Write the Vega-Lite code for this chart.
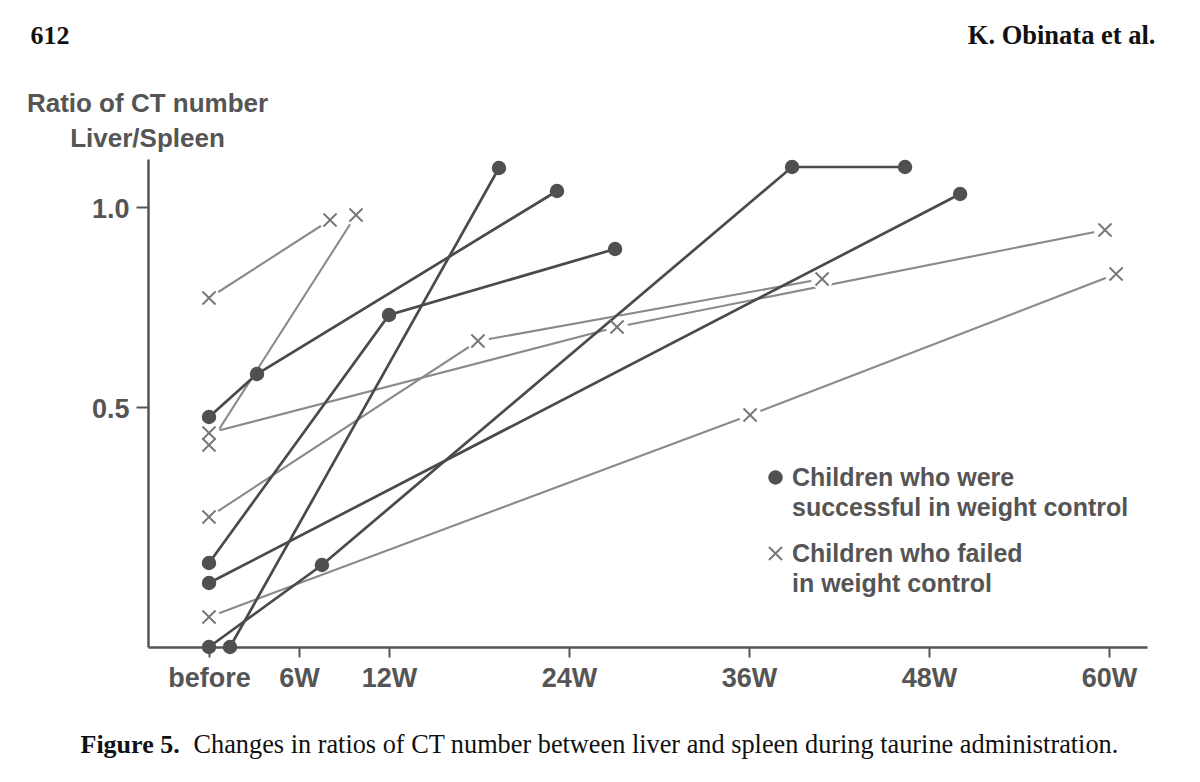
{
  "$schema": "https://vega.github.io/schema/vega-lite/v6.json",
  "width": 999,
  "height": 488,
  "autosize": {"type": "none"},
  "padding": {"left": 148, "top": 159, "right": 53, "bottom": 135},
  "background": "white",
  "data": {
    "values": [
      {"id": "a", "group": "failed", "week": 0, "ratio": 0.7725},
      {"id": "a", "group": "failed", "week": 8.07, "ratio": 0.9675},
      {"id": "b", "group": "failed", "week": 0, "ratio": 0.405},
      {"id": "b", "group": "failed", "week": 9.8, "ratio": 0.98},
      {"id": "c", "group": "failed", "week": 0, "ratio": 0.435},
      {"id": "c", "group": "failed", "week": 27.2, "ratio": 0.70},
      {"id": "c", "group": "failed", "week": 59.73, "ratio": 0.9425},
      {"id": "d", "group": "failed", "week": 0, "ratio": 0.225},
      {"id": "d", "group": "failed", "week": 17.93, "ratio": 0.665},
      {"id": "d", "group": "failed", "week": 40.87, "ratio": 0.82},
      {"id": "e", "group": "failed", "week": 0, "ratio": -0.025},
      {"id": "e", "group": "failed", "week": 36.07, "ratio": 0.48},
      {"id": "e", "group": "failed", "week": 60.47, "ratio": 0.8325},
      {"id": "A", "group": "success", "week": 0, "ratio": 0.475},
      {"id": "A", "group": "success", "week": 3.2, "ratio": 0.5825},
      {"id": "A", "group": "success", "week": 23.2, "ratio": 1.04},
      {"id": "B", "group": "success", "week": 0, "ratio": 0.11},
      {"id": "B", "group": "success", "week": 12, "ratio": 0.73},
      {"id": "B", "group": "success", "week": 27.07, "ratio": 0.895},
      {"id": "C", "group": "success", "week": 0, "ratio": 0.06},
      {"id": "C", "group": "success", "week": 50.07, "ratio": 1.0325},
      {"id": "D", "group": "success", "week": 0, "ratio": -0.1},
      {"id": "D", "group": "success", "week": 7.53, "ratio": 0.105},
      {"id": "D", "group": "success", "week": 38.87, "ratio": 1.10},
      {"id": "D", "group": "success", "week": 46.4, "ratio": 1.10},
      {"id": "E", "group": "success", "week": 1.4, "ratio": -0.1},
      {"id": "E", "group": "success", "week": 19.33, "ratio": 1.0975}
    ]
  },
  "resolve": {"axis": {"x": "independent", "y": "independent"}},
  "layer": [
    {
      "transform": [{"filter": "datum.group == 'failed'"}],
      "mark": {"type": "line", "strokeCap": "butt", "color": "#8a8a8a", "strokeWidth": 2.1},
      "encoding": {
        "x": {
          "field": "week", "type": "quantitative",
          "scale": {"domain": [-4.067, 62.53], "nice": false, "zero": false},
          "axis": {
            "orient": "bottom",
            "values": [0, 6, 12, 24, 36, 48, 60],
            "labelExpr": "datum.value == 0 ? 'before' : datum.value + 'W'",
            "tickSize": 10, "labelPadding": 8, "labelFontSize": 27,
            "title": "Changes in ratios of CT number between liver and spleen during taurine administration.",
            "titleX": 45, "titleY": 105, "titleAlign": "left", "titleBaseline": "alphabetic",
            "titleFont": "Liberation Serif", "titleFontSize": 26.3, "titleFontWeight": "normal", "titleColor": "#111111"
          }
        },
        "y": {
          "field": "ratio", "type": "quantitative",
          "scale": {"domain": [-0.1, 1.12], "nice": false, "zero": false},
          "axis": {
            "orient": "left",
            "values": [0.5, 1.0], "format": ".1f",
            "tickSize": 12, "labelPadding": 7, "labelFontSize": 27, "labelOffset": 2,
            "title": ["Ratio of CT number", "Liver/Spleen"],
            "titleAngle": 0, "titleAlign": "center", "titleX": -1, "titleY": -48,
            "titleBaseline": "alphabetic", "titleLineHeight": 35,
            "titleFont": "Liberation Sans", "titleFontSize": 26, "titleFontWeight": "bold", "titleColor": "#555555"
          }
        },
        "detail": {"field": "id"},
        "order": {"field": "week"}
      }
    },
    {
      "transform": [{"filter": "datum.group == 'failed'"}],
      "mark": {"type": "point", "shape": "circle", "filled": true, "color": "white", "opacity": 1, "size": 480},
      "encoding": {
        "x": {
          "field": "week", "type": "quantitative",
          "axis": {
            "orient": "top", "domain": false, "ticks": false, "labels": false,
            "title": "612", "titleX": -118, "titleY": -116, "titleAlign": "left", "titleBaseline": "alphabetic",
            "titleFont": "Liberation Serif", "titleFontSize": 26, "titleFontWeight": "bold", "titleColor": "#111111"
          }
        },
        "y": {
          "field": "ratio", "type": "quantitative",
          "axis": {
            "orient": "right", "domain": false, "ticks": false, "labels": false,
            "title": "Figure 5.", "titleAngle": 0, "titleX": -1067, "titleY": 593, "titleAlign": "left", "titleBaseline": "alphabetic",
            "titleFont": "Liberation Serif", "titleFontSize": 26, "titleFontWeight": "bold", "titleColor": "#111111"
          }
        }
      }
    },
    {
      "transform": [{"filter": "datum.group == 'success'"}],
      "mark": {"type": "line", "strokeCap": "butt", "color": "#4a4a4a", "strokeWidth": 2.7},
      "encoding": {
        "x": {
          "field": "week", "type": "quantitative",
          "axis": {"orient": "top", "domain": false, "ticks": false, "labels": false, "title": null}
        },
        "y": {
          "field": "ratio", "type": "quantitative",
          "axis": {"orient": "right", "domain": false, "ticks": false, "labels": false, "title": null}
        },
        "detail": {"field": "id"},
        "order": {"field": "week"}
      }
    },
    {
      "mark": {"type": "point", "filled": true, "opacity": 1, "size": 210, "strokeWidth": 0},
      "encoding": {
        "x": {
          "field": "week", "type": "quantitative",
          "axis": {
            "orient": "top", "domain": false, "ticks": false, "labels": false,
            "title": "K. Obinata et al.", "titleX": 1007, "titleY": -116, "titleAlign": "right", "titleBaseline": "alphabetic",
            "titleFont": "Liberation Serif", "titleFontSize": 26.5, "titleFontWeight": "bold", "titleColor": "#111111"
          }
        },
        "y": {
          "field": "ratio", "type": "quantitative",
          "axis": {"orient": "right", "domain": false, "ticks": false, "labels": false, "title": null}
        },
        "color": {
          "field": "group", "type": "nominal",
          "scale": {"domain": ["success", "failed"], "range": ["#505050", "#787878"]},
          "legend": {
            "orient": "none", "legendX": 615, "legendY": 306, "title": null, "padding": 0,
            "labelExpr": "datum.label == 'success' ? ['Children who were', 'successful in weight control'] : ['Children who failed', 'in weight control']",
            "labelFont": "Liberation Sans", "labelFontSize": 25, "labelFontWeight": "bold", "labelColor": "#555555",
            "labelOffset": 4, "labelLimit": 500, "symbolSize": 210, "symbolStrokeWidth": 0, "rowPadding": 20
          }
        },
        "shape": {
          "field": "group", "type": "nominal",
          "scale": {"domain": ["success", "failed"], "range": ["circle", "M-1,-0.81L-0.81,-1L0,-0.19L0.81,-1L1,-0.81L0.19,0L1,0.81L0.81,1L0,0.19L-0.81,1L-1,0.81L-0.19,0Z"]},
          "legend": {
            "orient": "none", "legendX": 615, "legendY": 306, "title": null, "padding": 0,
            "labelExpr": "datum.label == 'success' ? ['Children who were', 'successful in weight control'] : ['Children who failed', 'in weight control']",
            "labelFont": "Liberation Sans", "labelFontSize": 25, "labelFontWeight": "bold", "labelColor": "#555555",
            "labelOffset": 4, "labelLimit": 500, "symbolSize": 210, "symbolStrokeWidth": 0, "rowPadding": 20
          }
        }
      }
    }
  ],
  "config": {
    "view": {"stroke": null},
    "axis": {
      "grid": false,
      "domainColor": "#555555", "domainWidth": 2.5,
      "tickColor": "#555555", "tickWidth": 2,
      "labelFont": "Liberation Sans", "labelFontWeight": "bold", "labelColor": "#555555"
    },
    "style": {"guide-label": {"lineHeight": 30}}
  }
}
